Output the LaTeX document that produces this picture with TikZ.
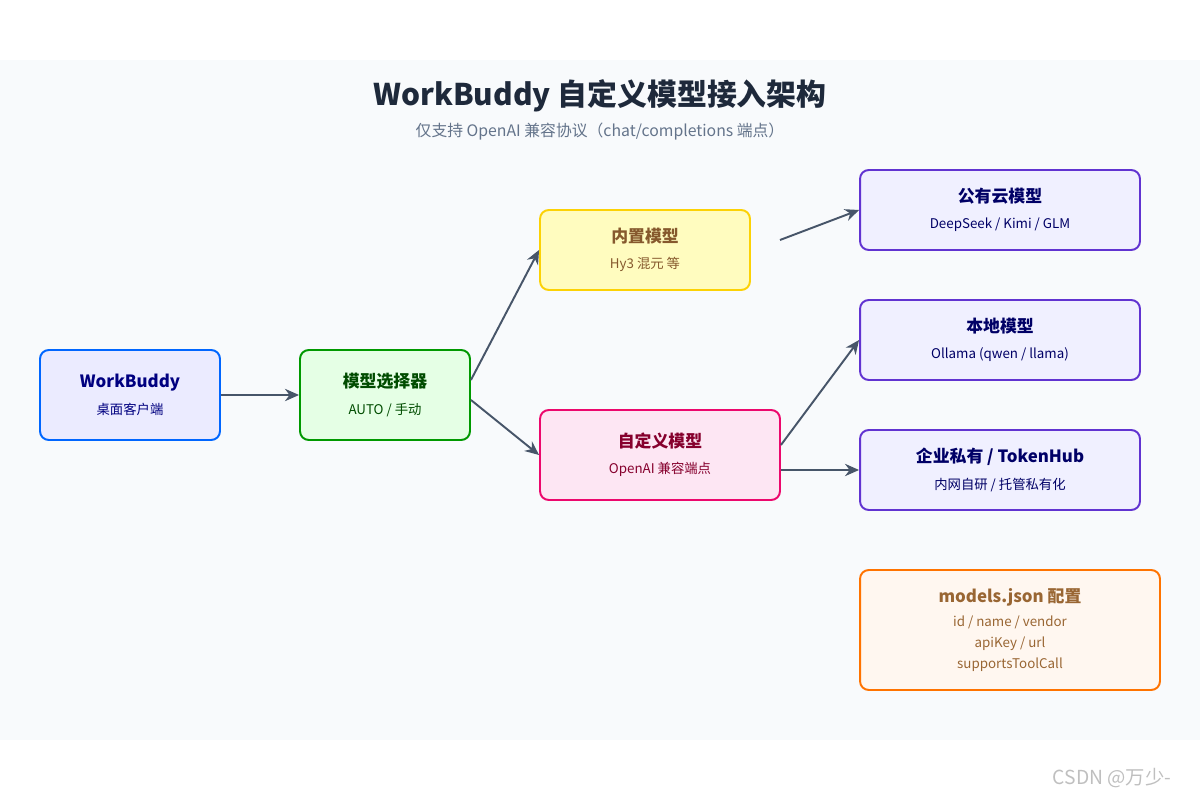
\documentclass[tikz,border=0pt]{standalone}
\usepackage{fontspec}
\setmainfont{Noto Sans CJK SC}
\usetikzlibrary{calc,arrows.meta}
\definecolor{bgc}{HTML}{F8FAFC}
\definecolor{arr}{HTML}{475569}
\definecolor{ttl}{HTML}{1E293B}
\definecolor{sub}{HTML}{64748B}
\tikzset{
  box/.style n args={4}{draw=#2, fill=#1, text=#3, line width=1.1pt, rounded corners=5pt,
    minimum width=#4, align=center, inner sep=0pt},
  link/.style={-{Stealth[length=8pt,width=7pt]}, draw=arr, line width=1.1pt},
}
\newcommand{\boxtext}[2]{{\fontsize{9.6}{12}\selectfont\bfseries #1}\\[3pt]{\fontsize{7.6}{12}\selectfont #2}}
\newcommand{\smalltxt}{\fontsize{7.6}{12.4}\selectfont}
\begin{document}
\begin{tikzpicture}[x=0.02cm,y=-0.02cm]
        \useasboundingbox (0,0) rectangle (1200,800);
        \fill[bgc] (0,60) rectangle (1200,740);

        \node[text=ttl] (title) at (600,96) {\fontsize{17}{20}\selectfont\bfseries WorkBuddy 自定义模型接入架构};
        \node[text=sub] (subtitle) at (600,132) {\fontsize{9}{11}\selectfont 仅支持 OpenAI 兼容协议（chat/completions 端点）};

        \node[box={blue!8!white}{blue!60!cyan}{blue!50!black}{3.6cm}, minimum height=1.8cm] (client) at (130,395)
            {\boxtext{WorkBuddy}{桌面客户端}};
        \node[box={green!10!white}{green!60!black}{green!30!black}{3.4cm}, minimum height=1.8cm] (selector) at (385,395)
            {\boxtext{模型选择器}{AUTO / 手动}};
        \node[box={yellow!25!white}{yellow!70!orange}{brown!70!black}{4.2cm}, minimum height=1.6cm] (builtin) at (645,250)
            {\boxtext{内置模型}{Hy3 混元 等}};
        \node[box={magenta!10!white}{magenta!70!red}{purple!70!black}{4.8cm}, minimum height=1.8cm] (custom) at (660,455)
            {\boxtext{自定义模型}{OpenAI 兼容端点}};
        \node[box={blue!6!white}{blue!55!violet!80!white}{blue!40!black}{5.6cm}, minimum height=1.6cm] (cloud) at (1000,210)
            {\boxtext{公有云模型}{DeepSeek / Kimi / GLM}};
        \node[box={blue!6!white}{blue!55!violet!80!white}{blue!40!black}{5.6cm}, minimum height=1.6cm] (local) at (1000,340)
            {\boxtext{本地模型}{Ollama (qwen / llama)}};
        \node[box={blue!6!white}{blue!55!violet!80!white}{blue!40!black}{5.6cm}, minimum height=1.6cm] (enterprise) at (1000,470)
            {\boxtext{企业私有 / TokenHub}{内网自研 / 托管私有化}};
        \node[box={orange!6!white}{orange!90!red}{brown!80!black}{6cm}, minimum height=2.4cm] (config) at (1010,630)
            {{\fontsize{9.6}{12}\selectfont\bfseries models.json 配置}\\[2pt]
             \smalltxt id / name / vendor\\ \smalltxt apiKey / url\\ \smalltxt supportsToolCall};

        \coordinate (spare) at (780,240);

        \draw[link] (client.east) -- (selector.west);
        \draw[link] ($(selector.east)+(0,-15)$) -- (builtin.west);
        \draw[link] ($(selector.east)+(0,5)$) -- (custom.west);
        \draw[link] (spare) -- (cloud.west);
        \draw[link] ($(custom.east)+(0,-10)$) -- (local.west);
        \draw[link] ($(custom.east)+(0,15)$) -- (enterprise.west);

        \node[text=black!25] (mark) at (1112,778) {\fontsize{11}{13}\selectfont CSDN @万少-};
    \end{tikzpicture}
\end{document}
